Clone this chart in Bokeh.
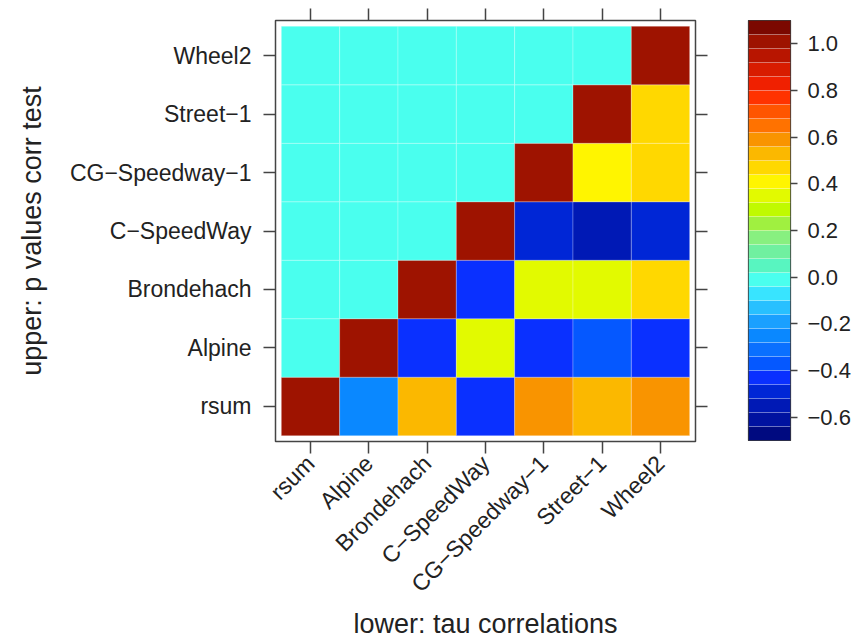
import numpy as np
from bokeh.plotting import figure
from bokeh.models import (Range1d, FixedTicker, LinearAxis, LinearColorMapper,
                          ColumnDataSource, CustomJSTickFormatter)
from bokeh.layouts import row
from bokeh.embed import file_html
from bokeh.resources import INLINE

# ---------------- data ----------------
names = ["rsum", "Alpine", "Brondehach", "C\u2212SpeedWay", "CG\u2212Speedway\u22121",
         "Street\u22121", "Wheel2"]

# lower triangle (incl. diagonal): Kendall tau, row variable vs later columns
tau_rsum = [1.00, -0.25, 0.53, -0.43, 0.59, 0.53, 0.59]
tau_alpine = [1.00, -0.43, 0.35, -0.42, -0.37, -0.42]
tau_brondehach = [1.00, -0.43, 0.35, 0.35, 0.47]
tau_cspeedway = [1.00, -0.49, -0.55, -0.49]
tau_cgspeedway = [1.00, 0.41, 0.47]
tau_street = [1.00, 0.47]
tau_wheel2 = [1.00]

# upper triangle: p values of the correlation tests (all close to zero)
p_rsum = []
p_alpine = [0.00]
p_brondehach = [0.00, 0.00]
p_cspeedway = [0.00, 0.00, 0.00]
p_cgspeedway = [0.00, 0.00, 0.00, 0.00]
p_street = [0.00, 0.00, 0.00, 0.00, 0.00]
p_wheel2 = [0.00, 0.00, 0.00, 0.00, 0.00, 0.00]

tau_rows = [tau_rsum, tau_alpine, tau_brondehach, tau_cspeedway, tau_cgspeedway, tau_street, tau_wheel2]
p_rows = [p_rsum, p_alpine, p_brondehach, p_cspeedway, p_cgspeedway, p_street, p_wheel2]

cb_low, cb_high, n_levels = -0.7, 1.1, 30
cb_ticks = [-0.6, -0.4, -0.2, 0.0, 0.2, 0.4, 0.6, 0.8, 1.0]

palette = ["#000A80", "#0012A0", "#0019B5", "#0026D6", "#0A30FF", "#0558FF", "#0A70FF",
           "#0A88FF", "#1AA0FF", "#28C0FF", "#38E4FF", "#4AFFEE", "#58F5C0", "#70F0A0",
           "#88F080", "#A0F040", "#C0FA00", "#E2FA00", "#FFF500", "#FFD800", "#FBB800",
           "#F99400", "#FF7200", "#FF5500", "#FF3300", "#F02000", "#D81C00", "#B81500",
           "#9E1300", "#7B0800"]

# ---------------- build cells ----------------
xs, ys, vs = [], [], []
for i, (pr, tr) in enumerate(zip(p_rows, tau_rows)):
    vals = list(pr) + list(tr)
    for j, v in enumerate(vals):
        xs.append(j + 1)
        ys.append(i + 1)
        vs.append(v)
src = ColumnDataSource(dict(x=xs, y=ys, v=vs))
mapper = LinearColorMapper(palette=palette, low=cb_low, high=cb_high)

FONT = "Liberation Sans"
TXT = "#222222"
TICKC = "#444444"
positions = list(range(1, len(names) + 1))

p = figure(frame_width=420, frame_height=421,
           x_range=Range1d(0.4, len(names) + 0.6), y_range=Range1d(0.4, len(names) + 0.6),
           output_backend="svg", toolbar_location=None,
           x_axis_location=None, y_axis_location=None,
           min_border_left=275, min_border_right=33, min_border_top=20, min_border_bottom=0)
p.grid.visible = False
p.outline_line_color = "#444444"
p.outline_line_width = 1.5
p.background_fill_color = "white"
p.border_fill_color = "white"

p.rect(x="x", y="y", width=1, height=1, source=src,
       fill_color={"field": "v", "transform": mapper},
       line_color="white", line_alpha=0.25, line_width=1)


def style(ax, show):
    ax.ticker = FixedTicker(ticks=positions)
    ax.axis_line_color = None
    ax.major_tick_out = 12
    ax.major_tick_in = 0
    ax.major_tick_line_color = TICKC
    ax.major_tick_line_width = 1.5
    ax.minor_tick_line_color = None
    if show:
        ax.major_label_overrides = {k: n for k, n in zip(positions, names)}
        ax.major_label_text_font = FONT
        ax.major_label_text_font_size = "23px"
        ax.major_label_text_color = TXT
        ax.axis_label_text_font = FONT
        ax.axis_label_text_font_size = "27px"
        ax.axis_label_text_font_style = "normal"
        ax.axis_label_text_color = TXT
    else:
        ax.major_label_overrides = {k: "" for k in positions}
        ax.major_label_text_font_size = "0px"
        ax.major_label_standoff = 0


bottom = LinearAxis(axis_label="lower: tau correlations")
style(bottom, True)
bottom.major_label_orientation = np.pi / 4
bottom.major_label_standoff = 6
bottom.axis_label_standoff = 0
p.add_layout(bottom, "below")

left = LinearAxis(axis_label="upper: p values corr test")
style(left, True)
left.major_label_standoff = 12
left.axis_label_standoff = 20
p.add_layout(left, "left")

top = LinearAxis()
style(top, False)
p.add_layout(top, "above")

right = LinearAxis()
style(right, False)
p.add_layout(right, "right")

# ---------------- colour key ----------------
levels = np.linspace(cb_low, cb_high, n_levels + 1)
key_src = ColumnDataSource(dict(bottom=levels[:-1], top=levels[1:], color=palette))

cb = figure(frame_width=42, frame_height=420,
            x_range=Range1d(0, 1), y_range=Range1d(cb_low, cb_high),
            output_backend="svg", toolbar_location=None,
            x_axis_location=None, y_axis_location="right",
            min_border_left=20, min_border_right=65, min_border_top=20, min_border_bottom=10)
cb.grid.visible = False
cb.outline_line_color = "#222222"
cb.outline_line_width = 1.2
cb.border_fill_color = "white"
cb.quad(left=0, right=1, bottom="bottom", top="top", fill_color="color", source=key_src,
        line_color="white", line_alpha=0.18, line_width=1)
ya = cb.yaxis[0]
ya.ticker = FixedTicker(ticks=cb_ticks)
ya.formatter = CustomJSTickFormatter(code="return tick.toFixed(1).replace('-', '\u2212');")
ya.axis_line_color = None
ya.major_tick_out = 7
ya.major_tick_in = 0
ya.major_tick_line_color = TICKC
ya.major_tick_line_width = 1.5
ya.minor_tick_line_color = None
ya.major_label_standoff = 10
ya.major_label_text_font = FONT
ya.major_label_text_font_size = "22px"
ya.major_label_text_color = TXT

layout = row(p, cb)
open("out.html", "w").write(file_html(layout, INLINE))
